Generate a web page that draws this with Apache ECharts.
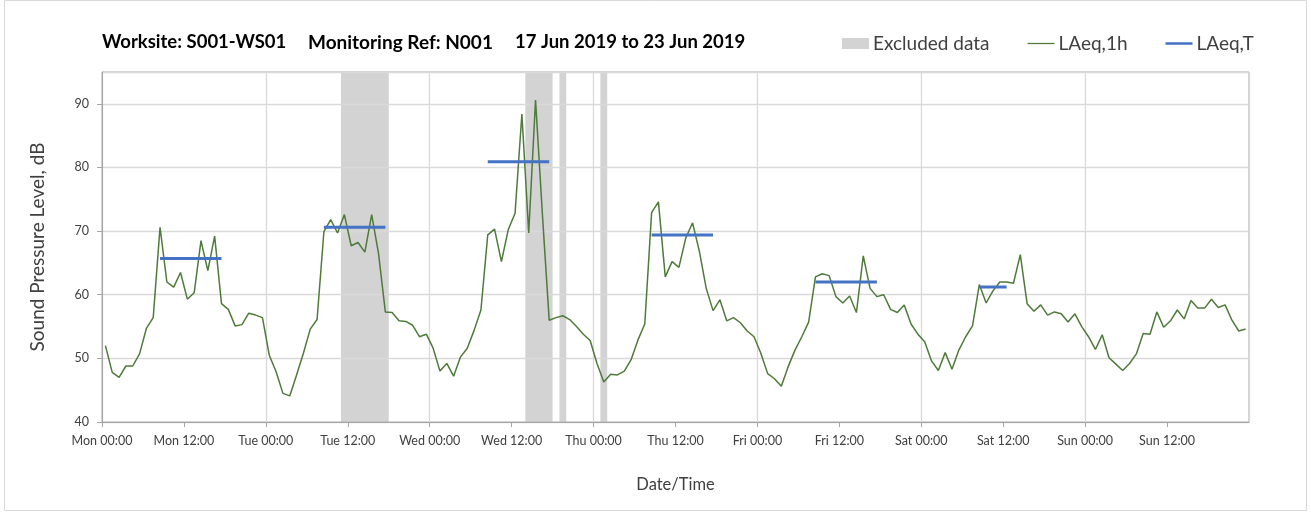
<!DOCTYPE html>
<html><head><meta charset="utf-8">
<script src="https://cdn.jsdelivr.net/npm/echarts@6/dist/echarts.min.js"></script>
<style>html,body{margin:0;padding:0;background:#fff}#c{width:1311px;height:519px}</style>
</head><body><div id="c"></div>
<script>
// Hours since Mon 00:00; hourly values are plotted at half past the hour
const tickLabels = ['Mon 00:00','Mon 12:00','Tue 00:00','Tue 12:00','Wed 00:00','Wed 12:00','Thu 00:00','Thu 12:00','Fri 00:00','Fri 12:00','Sat 00:00','Sat 12:00','Sun 00:00','Sun 12:00'];
const firstHour = 0.5;
const laeq1h = [
  52.0,47.8,47.0,48.8,48.8,50.7,54.7,56.4,70.6,62.0,61.2,63.5,59.3,60.3,68.5,63.8,69.2,58.6,57.7,55.1,55.3,57.1,56.8,56.4,
  50.5,47.9,44.5,44.1,47.4,50.8,54.6,56.1,69.9,71.8,69.7,72.6,67.7,68.2,66.7,72.6,66.5,57.3,57.2,55.9,55.8,55.2,53.4,53.8,
  51.6,48.0,49.2,47.2,50.2,51.6,54.4,57.6,69.4,70.3,65.2,70.2,72.8,88.4,69.7,90.6,72.7,56.0,56.4,56.7,56.1,55.0,53.8,52.8,
  49.2,46.3,47.5,47.4,48.0,49.8,52.9,55.4,72.9,74.6,62.8,65.2,64.3,68.9,71.3,66.8,61.0,57.5,59.2,55.9,56.4,55.6,54.3,53.4,
  50.8,47.6,46.8,45.6,48.7,51.3,53.4,55.7,62.8,63.3,63.0,59.7,58.7,59.8,57.2,66.1,61.0,59.7,60.0,57.7,57.2,58.4,55.4,53.8,
  52.6,49.6,48.1,50.9,48.3,51.3,53.4,55.1,61.6,58.7,60.6,62.0,62.0,61.8,66.3,58.6,57.4,58.4,56.8,57.3,57.0,55.7,57.0,55.0,
  53.4,51.4,53.7,50.1,49.1,48.1,49.2,50.7,53.9,53.8,57.3,54.9,55.9,57.6,56.2,59.1,57.9,57.9,59.3,58.0,58.4,56.0,54.3,54.6
];
const laeqTStart = [8.5, 32.5, 56.5, 80.5, 104.5, 128.5];
const laeqTEnd   = [17.5, 41.5, 65.5, 89.5, 113.5, 132.5];
const laeqTValue = [65.7, 70.6, 80.9, 69.4, 62.0, 61.2];
const exclStart = [35, 62, 67, 73];
const exclEnd   = [42, 66, 68, 74];

const FONT = 'Lato, "Open Sans", sans-serif';
const lineData = laeq1h.map((v, i) => [i + firstHour, v]);
const tData = [];
laeqTStart.forEach((s, k) => {
  tData.push([s, laeqTValue[k]], [laeqTEnd[k], laeqTValue[k]], [laeqTEnd[k], '-']);
});

const titleStyle = {fontFamily: FONT, fontSize: 18.5, fontWeight: 'bold', color: '#000'};
const chart = echarts.init(document.getElementById('c'), null, {renderer: 'canvas'});
chart.setOption({
  animation: false,
  backgroundColor: '#ffffff',
  textStyle: {fontFamily: FONT},
  title: [
    {text: 'Worksite: S001-WS01', left: 102, top: 33, padding: 0, textStyle: titleStyle},
    {text: 'Monitoring Ref: N001', left: 308, top: 33, padding: 0, textStyle: Object.assign({}, titleStyle, {fontSize: 19})},
    {text: '17 Jun 2019 to 23 Jun 2019', left: 515, top: 33, padding: 0, textStyle: titleStyle}
  ],
  legend: {
    left: 842, top: 34, padding: 0,
    itemWidth: 27, itemHeight: 11, itemGap: 38,
    textStyle: {fontFamily: FONT, fontSize: 19, color: '#404040', padding: [0, 0, 0, -1]},
    data: [
      {name: 'Excluded data', icon: 'rect'},
      {name: 'LAeq,1h', icon: 'path://M0,0H30V1.4H0Z'},
      {name: 'LAeq,T', icon: 'path://M0,0H30V2.8H0Z'}
    ]
  },
  graphic: [{
    type: 'rect', silent: true, z: -10,
    shape: {x: 4.5, y: 0.5, width: 1302, height: 510},
    style: {fill: 'none', stroke: '#d9d9d9', lineWidth: 1}
  }],
  grid: {left: 102, right: 62, top: 72, bottom: 97, show: true, borderColor: '#a6a6a6', borderWidth: 1, backgroundColor: 'transparent'},
  xAxis: [{
    type: 'value', min: 0, max: 168, interval: 12,
    axisLine: {show: true, lineStyle: {color: '#a6a6a6', width: 1}},
    axisTick: {show: true, length: 5, lineStyle: {color: '#a6a6a6'}},
    splitLine: {show: false},
    axisLabel: {
      margin: 12, fontFamily: FONT, fontSize: 12.5, color: '#404040', showMaxLabel: false,
      formatter: v => (tickLabels[Math.round(v / 12)] || '')
    },
    name: 'Date/Time', nameLocation: 'middle', nameGap: 54,
    nameTextStyle: {fontFamily: FONT, fontSize: 16.5, color: '#404040'}
  }, {
    type: 'value', min: 0, max: 168, interval: 24, position: 'top',
    axisLine: {show: false}, axisTick: {show: false}, axisLabel: {show: false},
    splitLine: {show: true, lineStyle: {color: '#d9d9d9', width: 1.3}}
  }],
  yAxis: {
    type: 'value', min: 40, max: 95, interval: 10,
    axisLine: {show: true, lineStyle: {color: '#a6a6a6', width: 1}},
    axisTick: {show: true, length: 5, lineStyle: {color: '#a6a6a6'}},
    splitLine: {show: true, lineStyle: {color: '#d9d9d9', width: 1.3}},
    axisLabel: {margin: 13, fontFamily: FONT, fontSize: 12.5, color: '#404040', showMaxLabel: false},
    name: 'Sound Pressure Level, dB', nameLocation: 'middle', nameGap: 55,
    nameTextStyle: {fontFamily: FONT, fontSize: 19, color: '#404040'}
  },
  series: [
    {
      name: 'Excluded data', type: 'line', xAxisIndex: 0, data: [], z: -1,
      itemStyle: {color: '#d3d3d3'}, lineStyle: {color: '#d3d3d3'},
      markArea: {
        silent: true, z: -1,
        itemStyle: {color: '#d3d3d3'},
        data: exclStart.map((s, k) => [{xAxis: s}, {xAxis: exclEnd[k]}])
      }
    },
    {
      name: 'LAeq,1h', type: 'line', xAxisIndex: 0, data: lineData, symbol: 'none', z: 3,
      itemStyle: {color: '#4e7a3a'}, lineStyle: {color: '#4e7a3a', width: 1.5}
    },
    {
      name: 'LAeq,T', type: 'line', xAxisIndex: 0, data: tData, symbol: 'none', z: 4,
      connectNulls: false,
      itemStyle: {color: '#4472c4'}, lineStyle: {color: '#4472c4', width: 3}
    }
  ]
});
</script>
</body></html>
